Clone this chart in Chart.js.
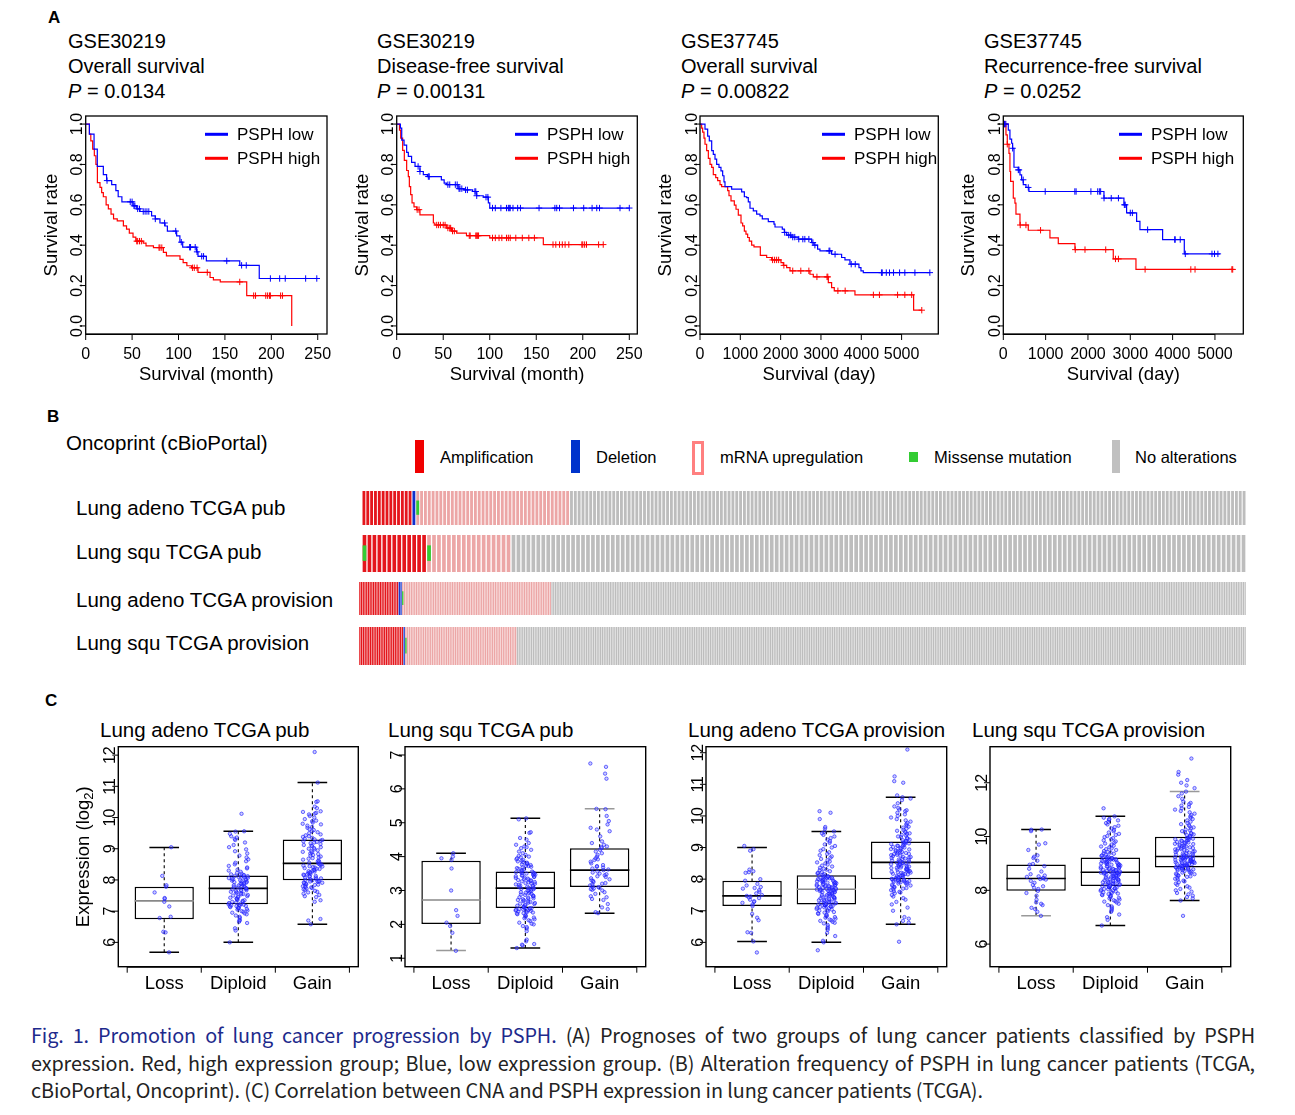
<!DOCTYPE html>
<html lang="en">
<head>
<meta charset="UTF-8">
<title>PSPH in lung cancer - Fig. 1</title>
<style>
  body { margin: 0; background: #fff; }
  #page { position: relative; width: 1295px; height: 1115px; overflow: hidden; background: #fff;
          font-family: "Liberation Sans", Arial, sans-serif; color: #000; }
  .t { position: absolute; white-space: nowrap; line-height: 1; }
  .lett { font-size: 17px; font-weight: bold; }
  .ttl { font-size: 20px; line-height: 25px; }
  .lab { font-size: 20.5px; }
  .leg { font-size: 16.5px; }
  .sw { position: absolute; box-sizing: border-box; }
  canvas { position: absolute; }
  .cap { position: absolute; left: 31px; width: 1224px; white-space: nowrap; font-family: "Noto Sans CJK KR", "Noto Sans", sans-serif;
         font-size: 19.8px; line-height: 28px; color: #222; letter-spacing: -0.1px; }
  .just { text-align: justify; text-align-last: justify; }
  .cap b { font-weight: normal; color: #1d2a8c; }
</style>
</head>
<body>
<div id="page">
  <div class="t lett" style="left:48px;top:9px">A</div>
  <div class="t ttl" style="left:68px;top:29px">GSE30219<br>Overall survival<br><i>P</i> = 0.0134</div>
  <div class="t ttl" style="left:377px;top:29px">GSE30219<br>Disease-free survival<br><i>P</i> = 0.00131</div>
  <div class="t ttl" style="left:681px;top:29px">GSE37745<br>Overall survival<br><i>P</i> = 0.00822</div>
  <div class="t ttl" style="left:984px;top:29px">GSE37745<br>Recurrence-free survival<br><i>P</i> = 0.0252</div>

  <div class="t lett" style="left:47px;top:408px">B</div>
  <div class="t lab" style="left:66px;top:433px">Oncoprint (cBioPortal)</div>
  <div class="t lab" style="left:76px;top:498px">Lung adeno TCGA pub</div>
  <div class="t lab" style="left:76px;top:542px">Lung squ TCGA pub</div>
  <div class="t lab" style="left:76px;top:590px">Lung adeno TCGA provision</div>
  <div class="t lab" style="left:76px;top:633px">Lung squ TCGA provision</div>

  <div class="sw" style="left:415px;top:440px;width:9px;height:33px;background:#f00000"></div>
  <div class="t leg" style="left:440px;top:449px">Amplification</div>
  <div class="sw" style="left:571px;top:440px;width:9px;height:33px;background:#0033cc"></div>
  <div class="t leg" style="left:596px;top:449px">Deletion</div>
  <div class="sw" style="left:692px;top:441px;width:12px;height:34px;border:3px solid #ff8080;background:#fff"></div>
  <div class="t leg" style="left:720px;top:449px">mRNA upregulation</div>
  <div class="sw" style="left:909px;top:452px;width:9px;height:10px;background:#33cc33"></div>
  <div class="t leg" style="left:934px;top:449px">Missense mutation</div>
  <div class="sw" style="left:1112px;top:440px;width:8px;height:33px;background:#c0c0c0"></div>
  <div class="t leg" style="left:1135px;top:449px">No alterations</div>

  <div class="t lett" style="left:45px;top:692px">C</div>
  <div class="t lab" style="left:100px;top:720px">Lung adeno TCGA pub</div>
  <div class="t lab" style="left:388px;top:720px">Lung squ TCGA pub</div>
  <div class="t lab" style="left:688px;top:720px">Lung adeno TCGA provision</div>
  <div class="t lab" style="left:972px;top:720px">Lung squ TCGA provision</div>

  <div class="cap just" style="top:1021px"><b>Fig. 1. Promotion of lung cancer progression by PSPH.</b> (A) Prognoses of two groups of lung cancer patients classified by PSPH</div>
  <div class="cap just" style="top:1049px">expression. Red, high expression group; Blue, low expression group. (B) Alteration frequency of PSPH in lung cancer patients (TCGA,</div>
  <div class="cap" style="top:1076px">cBioPortal, Oncoprint). (C) Correlation between CNA and PSPH expression in lung cancer patients (TCGA).</div>
</div>

<script src="https://cdn.jsdelivr.net/npm/chart.js@4.4.1/dist/chart.umd.min.js"></script>
<script>
// ---------- Panel A: Kaplan-Meier steps (time, survival) + censored times ----------
const gse30219OsLowT = [0, 4, 9, 12.5, 19, 22.5, 28, 32.5, 35, 39, 51, 55, 58.5, 71, 75, 80, 85.5, 88, 98, 101.5, 104.5, 119.5, 121, 130, 166, 187, 250];
const gse30219OsLowS = [1, 0.95, 0.876, 0.79, 0.75, 0.72, 0.70, 0.67, 0.64, 0.615, 0.595, 0.58, 0.567, 0.545, 0.53, 0.51, 0.495, 0.47, 0.446, 0.415, 0.39, 0.367, 0.345, 0.322, 0.30, 0.235, 0.235];
const gse30219OsLowCens = [23, 48, 50, 52, 53, 56, 58, 62, 64, 66, 68, 75, 85, 97, 103, 112, 113, 118, 120, 125, 127, 152, 168, 173, 199, 209, 215, 237, 249];
const gse30219OsHighT = [0, 4, 5.5, 7.5, 9.3, 11, 12.6, 15.4, 17.2, 19, 22, 24.4, 27.3, 30, 34, 40.6, 44, 47, 51, 54, 62, 65, 73, 83.7, 87, 101.6, 105, 109, 114, 121, 134, 137.6, 145, 173.5, 222];
const gse30219OsHighS = [1, 0.95, 0.917, 0.876, 0.843, 0.80, 0.71, 0.686, 0.66, 0.64, 0.60, 0.58, 0.554, 0.53, 0.52, 0.496, 0.48, 0.46, 0.44, 0.42, 0.41, 0.397, 0.388, 0.364, 0.347, 0.33, 0.314, 0.298, 0.288, 0.265, 0.24, 0.228, 0.218, 0.15, 0];
const gse30219OsHighCens = [55, 56, 58, 60, 79, 80, 82, 115, 117, 120, 131, 166, 181, 183, 194, 196, 198, 199, 210, 212];

const gse30219DfsLowT = [0, 4, 5.4, 7.9, 10.7, 12.5, 16, 19.7, 25, 28.6, 33, 48, 51, 53.7, 66, 72, 81.6, 86, 93, 98.5, 100, 250];
const gse30219DfsLowS = [1, 0.98, 0.92, 0.896, 0.86, 0.84, 0.81, 0.79, 0.765, 0.75, 0.74, 0.724, 0.707, 0.70, 0.68, 0.674, 0.666, 0.645, 0.638, 0.61, 0.584, 0.584];
const gse30219DfsLowCens = [23, 25, 34, 35, 55, 57, 63, 65, 67, 68, 70, 74, 76, 84, 85, 86, 96, 98, 103, 106, 112, 118, 120, 121, 122, 125, 130, 133, 153, 170, 172, 175, 190, 201, 210, 215, 218, 240, 250];
const gse30219DfsHighT = [0, 3, 4.3, 6.4, 8.2, 10.7, 12.5, 13.6, 15, 16.5, 18.6, 21.5, 25, 39.4, 41, 53.7, 59, 64.5, 75, 100, 157.6, 222];
const gse30219DfsHighS = [1, 0.97, 0.93, 0.87, 0.82, 0.77, 0.74, 0.69, 0.65, 0.61, 0.59, 0.576, 0.55, 0.51, 0.50, 0.485, 0.47, 0.46, 0.447, 0.436, 0.403, 0.403];
const gse30219DfsHighCens = [22, 24, 43, 45, 47, 50, 52, 55, 57, 58, 60, 62, 78, 79, 85, 86, 87, 88, 103, 106, 110, 113, 118, 120, 122, 128, 135, 142, 148, 168, 171, 175, 178, 181, 185, 199, 200, 202, 204, 217, 222];

const gse37745OsLowT = [0, 124, 190, 231, 290, 330, 372, 413, 471, 520, 562, 595, 620, 785, 1033, 1100, 1157, 1198, 1240, 1322, 1405, 1488, 1545, 1694, 1835, 1860, 2041, 2091, 2149, 2256, 2438, 2769, 2826, 2917, 2975, 3264, 3512, 3595, 3719, 3942, 3992, 4050, 5700];
const gse37745OsLowS = [1, 0.975, 0.94, 0.917, 0.868, 0.85, 0.826, 0.80, 0.785, 0.768, 0.744, 0.714, 0.69, 0.678, 0.664, 0.64, 0.636, 0.615, 0.583, 0.57, 0.554, 0.545, 0.53, 0.517, 0.504, 0.49, 0.48, 0.463, 0.45, 0.44, 0.43, 0.413, 0.40, 0.38, 0.372, 0.355, 0.339, 0.327, 0.306, 0.289, 0.273, 0.264, 0.264];
const gse37745OsLowCens = [2100, 2200, 2250, 2300, 2350, 2450, 2550, 2600, 2700, 2800, 2850, 3200, 3220, 3350, 3750, 3850, 4500, 4520, 4620, 4700, 4800, 4950, 5080, 5330, 5700];
const gse37745OsHighT = [0, 41, 66, 99, 124, 165, 207, 248, 290, 330, 390, 438, 496, 537, 686, 719, 769, 851, 893, 950, 1017, 1058, 1100, 1140, 1182, 1223, 1281, 1339, 1496, 1653, 1777, 2008, 2066, 2149, 2232, 2727, 2810, 3182, 3264, 3330, 3843, 5298, 5500];
const gse37745OsHighS = [1, 0.98, 0.96, 0.93, 0.90, 0.868, 0.83, 0.80, 0.785, 0.75, 0.735, 0.72, 0.70, 0.69, 0.67, 0.645, 0.62, 0.598, 0.578, 0.549, 0.51, 0.496, 0.47, 0.455, 0.438, 0.42, 0.40, 0.392, 0.35, 0.339, 0.327, 0.314, 0.30, 0.289, 0.273, 0.256, 0.243, 0.215, 0.19, 0.174, 0.154, 0.078, 0.078];
const gse37745OsHighCens = [1800, 1850, 1900, 1950, 2080, 2300, 2500, 2700, 2900, 3150, 3170, 3420, 3600, 4300, 4450, 4900, 5080, 5250, 5500];

const gse37745RfsLowT = [0, 118, 157, 197, 220, 252, 354, 394, 433, 472, 535, 606, 2378, 2850, 2913, 3150, 3228, 3764, 4276, 5118];
const gse37745RfsLowS = [1, 0.97, 0.925, 0.905, 0.88, 0.786, 0.773, 0.748, 0.724, 0.70, 0.686, 0.666, 0.633, 0.60, 0.56, 0.518, 0.477, 0.428, 0.357, 0.357];
const gse37745RfsLowCens = [30, 60, 220, 354, 370, 470, 590, 990, 1690, 1720, 2070, 2230, 2270, 2300, 2380, 2550, 2720, 2860, 2880, 3000, 3050, 3410, 4050, 4060, 4180, 4300, 4930, 4990, 5070];
const gse37745RfsHighT = [0, 63, 94, 134, 157, 173, 236, 275, 299, 394, 590, 1102, 1299, 1693, 2598, 3134, 5433];
const gse37745RfsHighS = [1, 0.946, 0.90, 0.855, 0.765, 0.716, 0.633, 0.608, 0.554, 0.50, 0.474, 0.436, 0.408, 0.378, 0.332, 0.28, 0.28];
const gse37745RfsHighCens = [20, 40, 94, 400, 535, 880, 1700, 1930, 2420, 2650, 2720, 3350, 4430, 4530, 5400, 5420];

const kmYTicks = [0, 0.2, 0.4, 0.6, 0.8, 1.0];
const monthTicks = [0, 50, 100, 150, 200, 250];
const dayTicks = [0, 1000, 2000, 3000, 4000, 5000];

// ---------- Panel B: oncoprint sample counts per cohort ----------
const oncoRows = ['Lung adeno TCGA pub', 'Lung squ TCGA pub', 'Lung adeno TCGA provision', 'Lung squ TCGA provision'];
const ampCounts = [13, 13, 23, 25];
const delCounts = [1, 0, 2, 1];
const mrnaCounts = [40, 17, 87, 63];
const noAltCounts = [176, 148, 405, 412];
const mutSamples = [[14], [0, 13], [25], [26]];

// ---------- Panel C: PSPH expression by copy number ----------
const cnaGroups = ['Loss', 'Diploid', 'Gain'];

const adPubLoss = [5.68, 6.32, 6.34, 6.78, 6.82, 7.15, 7.3, 7.4, 7.42, 7.6, 7.78, 7.83, 8.13, 9.05];
const adPubDip = [6.0, 6.38, 6.45, 6.62, 6.66, 6.7, 6.72, 6.78, 6.82, 6.86, 6.9, 6.93, 6.95, 6.98, 7.0, 7.02, 7.05, 7.07, 7.08, 7.1, 7.12, 7.13, 7.15, 7.16, 7.17, 7.18, 7.19, 7.2, 7.21, 7.22,
  7.24, 7.26, 7.28, 7.3, 7.31, 7.33, 7.35, 7.36, 7.38, 7.4, 7.41, 7.43, 7.45, 7.47, 7.48, 7.5, 7.52, 7.54, 7.55, 7.57, 7.59, 7.6, 7.62, 7.64, 7.65, 7.67, 7.68, 7.7, 7.71, 7.73,
  7.74, 7.76, 7.78, 7.79, 7.8, 7.82, 7.83, 7.85, 7.86, 7.88, 7.89, 7.9, 7.92, 7.93, 7.95, 7.96, 7.98, 7.99, 8.0, 8.02, 8.03, 8.04, 8.06, 8.07, 8.08, 8.1, 8.11, 8.12, 8.13, 8.14,
  8.16, 8.18, 8.2, 8.23, 8.26, 8.3, 8.33, 8.37, 8.4, 8.45, 8.5, 8.55, 8.6, 8.66, 8.72, 8.78, 8.85, 8.92, 8.98, 9.05, 9.12, 9.2, 9.28, 9.32, 9.36, 9.4, 9.48, 9.55, 9.56, 10.12];
const adPubGain = [6.58, 6.7, 6.75, 7.3, 7.35, 7.45, 7.48, 7.52, 7.56, 7.6, 7.62, 7.65, 7.68, 7.7, 7.72, 7.74, 7.76, 7.78, 7.8, 7.82, 7.84, 7.85, 7.86, 7.88, 7.9, 7.91, 7.92, 7.94, 7.95, 7.96, 7.97, 7.99,
  8.0, 8.02, 8.04, 8.05, 8.07, 8.08, 8.1, 8.12, 8.13, 8.15, 8.17, 8.18, 8.2, 8.22, 8.23, 8.25, 8.27, 8.28, 8.3, 8.32, 8.33, 8.35, 8.36, 8.38, 8.4, 8.41, 8.43, 8.44, 8.46, 8.48, 8.5, 8.51, 8.53,
  8.55, 8.58, 8.6, 8.62, 8.65, 8.68, 8.7, 8.72, 8.75, 8.78, 8.8, 8.83, 8.85, 8.88, 8.9, 8.92, 8.95, 8.98, 9.0, 9.02, 9.05, 9.08, 9.1, 9.12, 9.15, 9.18, 9.2, 9.22, 9.24, 9.26, 9.28, 9.3,
  9.32, 9.35, 9.38, 9.4, 9.43, 9.46, 9.5, 9.53, 9.56, 9.6, 9.63, 9.67, 9.7, 9.74, 9.78, 9.8, 9.84, 9.88, 9.9, 9.95, 10.0, 10.05, 10.1, 10.13, 10.15, 10.18, 10.2, 10.3, 10.35, 10.5, 10.52, 11.12, 12.1];
const adPubLo = [5.68, 6.0, 6.58], adPubQ1 = [6.74, 7.22, 7.99], adPubMed = [7.33, 7.73, 8.53], adPubQ3 = [7.78, 8.14, 9.30], adPubHi = [9.04, 9.56, 11.12];

const sqPubLoss = [1.22, 1.75, 1.95, 2.05, 2.25, 2.42, 3.0, 3.65, 3.9, 3.95, 4.0, 4.1];
const sqPubDip = [1.3, 1.38, 1.4, 1.42, 1.5, 1.55, 1.8, 1.88, 1.92, 1.95, 2.0, 2.02, 2.05, 2.1, 2.12, 2.15, 2.18, 2.2, 2.22, 2.25, 2.27, 2.3, 2.32, 2.33, 2.35, 2.36, 2.38, 2.39, 2.4, 2.41, 2.42, 2.43, 2.44, 2.45, 2.46, 2.47, 2.48,
  2.49, 2.5, 2.52, 2.53, 2.55, 2.56, 2.58, 2.6, 2.61, 2.63, 2.64, 2.66, 2.68, 2.69, 2.71, 2.72, 2.74, 2.76, 2.77, 2.79, 2.8, 2.82, 2.84, 2.85, 2.87, 2.88, 2.9, 2.92, 2.93, 2.95, 2.96, 2.98, 3.0, 3.01, 3.03, 3.04, 3.05, 3.07,
  3.08, 3.1, 3.11, 3.12, 3.14, 3.15, 3.17, 3.18, 3.2, 3.21, 3.22, 3.24, 3.25, 3.27, 3.28, 3.3, 3.31, 3.32, 3.34, 3.35, 3.37, 3.38, 3.4, 3.41, 3.42, 3.44, 3.45, 3.46, 3.47, 3.48, 3.5, 3.51, 3.52, 3.53, 3.54, 3.55, 3.56,
  3.58, 3.6, 3.62, 3.64, 3.66, 3.68, 3.7, 3.72, 3.73, 3.75, 3.77, 3.78, 3.8, 3.82, 3.84, 3.86, 3.88, 3.9, 3.92, 3.95, 3.98, 4.0, 4.02, 4.05, 4.1, 4.15, 4.2, 4.25, 4.28, 4.3, 4.35, 4.4, 4.5, 4.55, 4.7, 4.72, 5.1, 5.13];
const sqPubGain = [2.33, 2.36, 2.45, 2.5, 2.6, 2.72, 2.75, 2.8, 2.83, 2.9, 2.95, 3.0, 3.02, 3.04, 3.06, 3.08, 3.1,
  3.12, 3.15, 3.18, 3.2, 3.22, 3.25, 3.28, 3.3, 3.33, 3.36, 3.4, 3.42, 3.45, 3.48, 3.5, 3.53, 3.56, 3.6,
  3.62, 3.65, 3.68, 3.7, 3.72, 3.75, 3.8, 3.85, 3.9, 3.92, 3.95, 4.0, 4.05, 4.1, 4.15, 4.2, 4.25,
  4.28, 4.3, 4.35, 4.4, 4.45, 4.6, 4.75, 4.8, 4.85, 4.95, 5.05, 5.2, 5.4, 5.41, 6.3, 6.45, 6.65, 6.75];
const sqPubLo = [1.23, 1.30, 2.33], sqPubQ1 = [2.01, 2.48, 3.10], sqPubMed = [2.72, 3.07, 3.60], sqPubQ3 = [3.88, 3.56, 4.25], sqPubHi = [4.10, 5.13, 5.41];

const adProvLoss = [5.68, 6.03, 6.3, 6.32, 6.7, 6.78, 6.9, 7.15, 7.2, 7.25, 7.28, 7.3, 7.35, 7.4, 7.42, 7.45, 7.47, 7.5, 7.55, 7.6, 7.65, 7.7, 7.72, 7.75, 7.8, 7.85, 7.95, 8.0, 8.2, 8.22, 8.25, 8.3, 8.9, 8.95, 9.05];
const adProvDip = [5.75, 6.0, 6.05, 6.2, 6.3, 6.4, 6.45, 6.5, 6.55, 6.6, 6.62, 6.65, 6.68, 6.7, 6.72, 6.75, 6.78, 6.8, 6.82, 6.85, 6.87, 6.9, 6.92, 6.94, 6.96, 6.98, 7.0, 7.02, 7.04, 7.06, 7.08, 7.1, 7.11, 7.12, 7.13, 7.14, 7.15, 7.16, 7.17, 7.18, 7.19, 7.2,
  7.21, 7.22, 7.23, 7.24, 7.25, 7.27, 7.28, 7.29, 7.3, 7.32, 7.33, 7.34, 7.35, 7.37, 7.38, 7.39, 7.4, 7.42, 7.43, 7.44, 7.45, 7.47, 7.48, 7.49, 7.5, 7.52, 7.53, 7.54, 7.55, 7.57, 7.58, 7.59, 7.6, 7.61, 7.62, 7.63, 7.64, 7.65, 7.66, 7.67, 7.67, 7.68, 7.68,
  7.69, 7.7, 7.71, 7.72, 7.73, 7.74, 7.75, 7.76, 7.77, 7.78, 7.79, 7.8, 7.81, 7.82, 7.83, 7.84, 7.85, 7.86, 7.87, 7.88, 7.89, 7.9, 7.91, 7.92, 7.93, 7.94, 7.95, 7.96, 7.97, 7.98, 7.99, 8.0, 8.01, 8.02, 8.03, 8.04, 8.05, 8.06, 8.07, 8.08, 8.09, 8.1, 8.12,
  8.14, 8.16, 8.18, 8.2, 8.22, 8.25, 8.28, 8.3, 8.33, 8.36, 8.4, 8.43, 8.46, 8.5, 8.53, 8.56, 8.6, 8.64, 8.68, 8.72, 8.76, 8.8, 8.85, 8.9, 8.95, 9.0, 9.05, 9.1, 9.15, 9.2, 9.25, 9.3, 9.35, 9.4, 9.45, 9.5, 9.51, 9.6, 9.65, 9.9, 10.1, 10.15];
const adProvGain = [6.02, 6.57, 6.62, 6.68, 6.75, 6.8, 7.0, 7.1, 7.2, 7.28, 7.35, 7.4, 7.45, 7.5, 7.55, 7.58, 7.6, 7.62, 7.65, 7.68, 7.7, 7.72, 7.74, 7.76, 7.78, 7.8, 7.82, 7.84, 7.86, 7.88, 7.89, 7.9, 7.91, 7.92, 7.93, 7.94, 7.95, 7.96, 7.97, 7.98, 7.99, 8.0,
  8.01, 8.02, 8.03, 8.05, 8.06, 8.07, 8.08, 8.1, 8.11, 8.12, 8.13, 8.15, 8.16, 8.17, 8.18, 8.2, 8.21, 8.22, 8.23, 8.25, 8.26, 8.27, 8.28, 8.3, 8.31, 8.32, 8.33, 8.35, 8.36, 8.37, 8.38, 8.4, 8.41, 8.42, 8.43, 8.45, 8.46, 8.47, 8.48, 8.5, 8.51, 8.52, 8.53,
  8.55, 8.56, 8.58, 8.59, 8.61, 8.62, 8.64, 8.65, 8.67, 8.68, 8.7, 8.71, 8.73, 8.74, 8.76, 8.77, 8.79, 8.8, 8.82, 8.83, 8.85, 8.86, 8.88, 8.89, 8.91, 8.92, 8.94, 8.95, 8.97, 8.98, 9.0, 9.02, 9.03, 9.05, 9.06, 9.08, 9.1, 9.11, 9.13, 9.14, 9.16, 9.17, 9.19,
  9.21, 9.23, 9.25, 9.28, 9.3, 9.33, 9.35, 9.38, 9.4, 9.43, 9.45, 9.48, 9.5, 9.53, 9.56, 9.6, 9.63, 9.66, 9.7, 9.74, 9.78, 9.82, 9.86, 9.9, 9.95, 10.0, 10.05, 10.1, 10.15, 10.18, 10.2, 10.25, 10.3, 10.4, 10.5, 10.55, 10.59, 10.65, 11.05, 11.1, 11.25, 12.1];
const adProvLo = [6.03, 6.0, 6.57], adProvQ1 = [7.15, 7.20, 8.0], adProvMed = [7.47, 7.68, 8.53], adProvQ3 = [7.95, 8.12, 9.19], adProvHi = [9.0, 9.51, 10.59];

const sqProvLoss = [7.05, 7.2, 7.3, 7.35, 7.45, 7.5, 7.55, 7.65, 7.8, 7.9, 7.98, 8.05, 8.1, 8.15, 8.2, 8.28, 8.35, 8.4, 8.42, 8.44, 8.46, 8.5, 8.52, 8.55, 8.6, 8.7, 8.8, 8.9, 8.95, 8.98, 9.1, 9.2, 9.25, 9.3, 9.5, 9.7, 9.75, 10.2, 10.25, 10.26];
const sqProvDip = [6.69, 6.9, 7.0, 7.1, 7.2, 7.25, 7.3, 7.35, 7.4, 7.45, 7.5, 7.55, 7.58, 7.6, 7.63, 7.66, 7.7, 7.72, 7.75, 7.78, 7.8, 7.82, 7.84, 7.86, 7.88, 7.9, 7.92, 7.94, 7.96, 7.98, 8.0, 8.02, 8.04, 8.05, 8.07, 8.08, 8.1, 8.11, 8.12, 8.13, 8.15, 8.16,
  8.17, 8.18, 8.2, 8.21, 8.22, 8.24, 8.25, 8.26, 8.28, 8.29, 8.3, 8.32, 8.33, 8.34, 8.36, 8.37, 8.38, 8.4, 8.41, 8.42, 8.44, 8.45, 8.46, 8.48, 8.49, 8.5, 8.52, 8.53, 8.54, 8.56, 8.57, 8.58, 8.6, 8.61, 8.62, 8.63, 8.64, 8.65, 8.65, 8.66, 8.66, 8.67, 8.67,
  8.68, 8.7, 8.71, 8.72, 8.74, 8.75, 8.76, 8.78, 8.79, 8.8, 8.82, 8.83, 8.84, 8.86, 8.87, 8.88, 8.9, 8.91, 8.92, 8.94, 8.95, 8.96, 8.98, 8.99, 9.0, 9.02, 9.03, 9.04, 9.06, 9.07, 9.08, 9.1, 9.11, 9.12, 9.14, 9.15, 9.16, 9.17, 9.18, 9.19, 9.2, 9.21, 9.22,
  9.24, 9.26, 9.28, 9.3, 9.33, 9.36, 9.38, 9.4, 9.43, 9.46, 9.5, 9.53, 9.56, 9.6, 9.63, 9.66, 9.7, 9.74, 9.78, 9.82, 9.86, 9.9, 9.94, 9.98, 10.02, 10.06, 10.1, 10.15, 10.2, 10.25, 10.3, 10.35, 10.4, 10.45, 10.5, 10.55, 10.6, 10.62, 10.65, 10.7, 10.75, 11.05];
const sqProvGain = [7.05, 7.62, 7.7, 7.75, 7.8, 7.85, 7.9, 7.95, 8.0, 8.05, 8.1, 8.15, 8.2, 8.25, 8.3, 8.33, 8.36, 8.4, 8.43, 8.46, 8.5, 8.52, 8.54, 8.56, 8.58, 8.6, 8.62, 8.64, 8.66, 8.68, 8.7, 8.72, 8.74, 8.75, 8.76, 8.78, 8.79, 8.8, 8.81, 8.82, 8.84, 8.85,
  8.86, 8.87, 8.88, 8.89, 8.9, 8.91, 8.92, 8.93, 8.94, 8.95, 8.96, 8.97, 8.98, 8.99, 9.0, 9.01, 9.02, 9.03, 9.04, 9.05, 9.06, 9.07, 9.08, 9.09, 9.1, 9.11, 9.12, 9.13, 9.14, 9.15, 9.16, 9.17, 9.18, 9.19, 9.2, 9.21, 9.22, 9.23, 9.24, 9.24, 9.25, 9.25, 9.26,
  9.28, 9.3, 9.32, 9.33, 9.35, 9.37, 9.38, 9.4, 9.42, 9.43, 9.45, 9.47, 9.48, 9.5, 9.52, 9.53, 9.55, 9.57, 9.58, 9.6, 9.62, 9.63, 9.65, 9.67, 9.68, 9.7, 9.72, 9.73, 9.75, 9.77, 9.78, 9.8, 9.82, 9.83, 9.85, 9.87, 9.88, 9.9, 9.92, 9.93, 9.95, 9.97, 9.99,
  10.02, 10.05, 10.08, 10.1, 10.13, 10.16, 10.2, 10.23, 10.26, 10.3, 10.34, 10.38, 10.42, 10.46, 10.5, 10.55, 10.6, 10.65, 10.7, 10.75, 10.8, 10.85, 10.9, 10.95, 11.0, 11.05, 11.1, 11.15, 11.2, 11.25, 11.3, 11.4, 11.5, 11.6, 11.67, 11.8, 11.9, 12.0, 12.1, 12.3, 12.4, 12.9];
const sqProvLo = [7.05, 6.69, 7.62], sqProvQ1 = [7.98, 8.16, 8.85], sqProvMed = [8.44, 8.67, 9.26], sqProvQ3 = [8.96, 9.22, 9.99], sqProvHi = [10.26, 10.75, 11.67];

// ---------- helpers ----------
const page = document.getElementById('page');
const FONT = '"Liberation Sans", Arial, sans-serif';
const BLUE = '#0000ff', RED = '#ff0000';

function canvasAt(x, y, w, h) {
  const c = document.createElement('canvas');
  c.width = w; c.height = h;
  c.style.left = x + 'px'; c.style.top = y + 'px';
  c.style.width = w + 'px'; c.style.height = h + 'px';
  page.appendChild(c);
  return c;
}

function kmSteps(t, s) { return t.map((v, i) => ({ x: v, y: s[i] })); }
function kmCensor(t, s, c) {
  return c.map(v => {
    let k = 0;
    while (k + 1 < t.length && t[k + 1] <= v) k++;
    return { x: v, y: s[k] };
  });
}

// R-like frame: box, outward ticks, rotated y labels
function rFrame(f) {
  return {
    id: 'rFrame',
    afterDatasetsDraw(chart) {
      const { ctx, chartArea: a } = chart;
      const x = chart.scales.x, y = chart.scales.y;
      ctx.save();
      ctx.strokeStyle = '#000';
      ctx.fillStyle = '#000';
      ctx.lineWidth = f.frameWidth || 1.3;
      ctx.strokeRect(a.left, a.top, a.right - a.left, a.bottom - a.top);

      ctx.lineWidth = 1;
      ctx.beginPath();
      f.xMarks.forEach(v => {
        const px = x.getPixelForValue(v);
        ctx.moveTo(px, a.bottom); ctx.lineTo(px, a.bottom + 6);
      });
      const x0 = x.getPixelForValue(f.xMarks[0]), x1 = x.getPixelForValue(f.xMarks[f.xMarks.length - 1]);
      ctx.moveTo(x0, a.bottom + 0.5); ctx.lineTo(x1, a.bottom + 0.5);
      f.yTicks.forEach(v => {
        const py = y.getPixelForValue(v);
        ctx.moveTo(a.left, py); ctx.lineTo(a.left - 6, py);
      });
      ctx.stroke();

      ctx.font = f.xFont;
      ctx.textAlign = 'center';
      ctx.textBaseline = 'middle';
      f.xAt.forEach((v, i) => ctx.fillText(f.xText[i], x.getPixelForValue(v), a.bottom + f.xGap));

      ctx.font = '16px ' + FONT;
      ctx.textBaseline = 'alphabetic';
      f.yTicks.forEach(v => {
        ctx.save();
        ctx.translate(a.left - 3.5, y.getPixelForValue(v));
        ctx.rotate(-Math.PI / 2);
        ctx.fillText(f.yFmt(v), 0, 0);
        ctx.restore();
      });

      ctx.font = '18.5px ' + FONT;
      ctx.textBaseline = 'middle';
      if (f.xTitle) ctx.fillText(f.xTitle, (a.left + a.right) / 2, a.bottom + 41);
      if (f.yTitle) {
        ctx.save();
        ctx.translate(a.left - 34, (a.top + a.bottom) / 2);
        ctx.rotate(-Math.PI / 2);
        const main = f.yTitle, sub = f.ySub || '', tail = f.yTail || '';
        const w1 = ctx.measureText(main).width, w3 = ctx.measureText(tail).width;
        ctx.font = '13px ' + FONT;
        const w2 = ctx.measureText(sub).width;
        let s = -(w1 + w2 + w3) / 2;
        ctx.textAlign = 'left';
        ctx.font = '18.5px ' + FONT;
        ctx.fillText(main, s, 0);
        ctx.font = '13px ' + FONT;
        ctx.fillText(sub, s + w1, 5);
        ctx.font = '18.5px ' + FONT;
        ctx.fillText(tail, s + w1 + w2, 0);
        ctx.restore();
      }

      if (f.keyX !== undefined) {
        ctx.textAlign = 'left';
        ctx.font = '17px ' + FONT;
        [0, 1].forEach(i => {
          const ds = chart.data.datasets[i];
          const yy = a.top + 18.3 + i * 24;
          ctx.strokeStyle = ds.borderColor;
          ctx.lineWidth = 3;
          ctx.beginPath(); ctx.moveTo(f.keyX, yy); ctx.lineTo(f.keyX + 23, yy); ctx.stroke();
          ctx.fillText(ds.label, f.keyX + 32, yy + 1);
        });
      }
      ctx.restore();
    }
  };
}

const baseOpts = { responsive: false, animation: false, events: [] };
const noPlugins = { legend: { display: false }, tooltip: { enabled: false } };

// ---------- Panel A ----------
const kmPanels = [
  { box: [85.7, 116, 327, 334], xMax: 260, ticks: monthTicks, title: 'Survival (month)', keyX: 205,
    low: [gse30219OsLowT, gse30219OsLowS, gse30219OsLowCens], high: [gse30219OsHighT, gse30219OsHighS, gse30219OsHighCens] },
  { box: [396.7, 116, 637.3, 334], xMax: 258.6, ticks: monthTicks, title: 'Survival (month)', keyX: 515,
    low: [gse30219DfsLowT, gse30219DfsLowS, gse30219DfsLowCens], high: [gse30219DfsHighT, gse30219DfsHighS, gse30219DfsHighCens] },
  { box: [700, 116, 938.3, 334], xMax: 5910, ticks: dayTicks, title: 'Survival (day)', keyX: 822,
    low: [gse37745OsLowT, gse37745OsLowS, gse37745OsLowCens], high: [gse37745OsHighT, gse37745OsHighS, gse37745OsHighCens] },
  { box: [1003.3, 116, 1243.3, 334], xMax: 5670, ticks: dayTicks, title: 'Survival (day)', keyX: 1119,
    low: [gse37745RfsLowT, gse37745RfsLowS, gse37745RfsLowCens], high: [gse37745RfsHighT, gse37745RfsHighS, gse37745RfsHighCens] }
];

kmPanels.forEach(p => {
  const [l, t, r, b] = p.box;
  const cx = Math.floor(l - 62), cy = 100, cw = Math.ceil(r + 10) - cx, ch = 300;
  const cv = canvasAt(cx, cy, cw, ch);
  const line = (label, d, color) => ({ type: 'line', label, data: kmSteps(d[0], d[1]), borderColor: color,
    borderWidth: 1.2, stepped: 'before', pointRadius: 0, fill: false, order: 2 });
  const marks = (d, color) => ({ type: 'scatter', data: kmCensor(d[0], d[1], d[2]), pointStyle: 'cross',
    pointRadius: 3.2, pointBorderColor: color, pointBorderWidth: 1, order: 1 });
  new Chart(cv, {
    type: 'scatter',
    data: { datasets: [line('PSPH low', p.low, BLUE), line('PSPH high', p.high, RED), marks(p.low, BLUE), marks(p.high, RED)] },
    options: Object.assign({}, baseOpts, {
      layout: { padding: { left: l - cx, top: t - cy, right: cx + cw - r, bottom: cy + ch - b } },
      scales: {
        x: { type: 'linear', display: false, min: 0, max: p.xMax },
        y: { type: 'linear', display: false, min: -0.04, max: 1.04 }
      },
      plugins: noPlugins
    }),
    plugins: [rFrame({ xMarks: p.ticks, xAt: p.ticks, xText: p.ticks.map(String), xFont: '16px ' + FONT, xGap: 20.5,
      yTicks: kmYTicks, yFmt: v => v.toFixed(1), xTitle: p.title, yTitle: 'Survival rate', keyX: p.keyX - cx })]
  });
});

// ---------- Panel B ----------
const oncoBoxes = [[362, 491, 1246, 525], [362, 535, 1246, 572], [359, 582, 1246, 615], [359, 627, 1246, 665]];
const AMP = '#e4161c', DEL = '#1030cc', MRNA = '#eca6a6', NOALT = '#bdbdbd', MUT = '#33cc33';

oncoRows.forEach((name, r) => {
  const [l, t, rr, b] = oncoBoxes[r];
  const colors = [];
  [[ampCounts[r], AMP], [delCounts[r], DEL], [mrnaCounts[r], MRNA], [noAltCounts[r], NOALT]].forEach(([n, c]) => {
    for (let i = 0; i < n; i++) colors.push(c);
  });
  const labels = colors.map((c, i) => i);
  const cv = canvasAt(l, t, rr - l, b - t);
  new Chart(cv, {
    type: 'bar',
    data: {
      labels,
      datasets: [
        { label: name + ' mutation', data: labels.map(i => mutSamples[r].includes(i) ? [0.3, 0.72] : null),
          backgroundColor: MUT, grouped: false, barPercentage: 0.75, categoryPercentage: 1, order: 0 },
        { label: name, data: labels.map(() => 1), backgroundColor: colors, grouped: false,
          barPercentage: 0.74, categoryPercentage: 1, order: 1 }
      ]
    },
    options: Object.assign({}, baseOpts, {
      scales: { x: { display: false }, y: { display: false, min: 0, max: 1 } },
      plugins: noPlugins
    })
  });
});

// ---------- Panel C ----------
const cPanels = [
  { box: [118.3, 746.7, 358.3, 966.7], yMin: 5.22, yMax: 12.27, yTicks: [6, 7, 8, 9, 10, 11, 12], yTitle: true,
    pts: [adPubLoss, adPubDip, adPubGain], lo: adPubLo, q1: adPubQ1, med: adPubMed, q3: adPubQ3, hi: adPubHi,
    medCol: ['#888', '#000', '#000'], loCol: ['#000', '#000', '#000'], hiCol: ['#000', '#000', '#000'] },
  { box: [405, 746.7, 645.7, 966.7], yMin: 0.75, yMax: 7.245, yTicks: [1, 2, 3, 4, 5, 6, 7],
    pts: [sqPubLoss, sqPubDip, sqPubGain], lo: sqPubLo, q1: sqPubQ1, med: sqPubMed, q3: sqPubQ3, hi: sqPubHi,
    medCol: ['#888', '#000', '#000'], loCol: ['#999', '#000', '#000'], hiCol: ['#000', '#000', '#999'] },
  { box: [706, 746.7, 946.7, 966.7], yMin: 5.23, yMax: 12.19, yTicks: [6, 7, 8, 9, 10, 11, 12],
    pts: [adProvLoss, adProvDip, adProvGain], lo: adProvLo, q1: adProvQ1, med: adProvMed, q3: adProvQ3, hi: adProvHi,
    medCol: ['#000', '#888', '#000'], loCol: ['#000', '#000', '#000'], hiCol: ['#000', '#000', '#000'] },
  { box: [990, 746.7, 1230.7, 966.7], yMin: 5.16, yMax: 13.34, yTicks: [6, 8, 10, 12],
    pts: [sqProvLoss, sqProvDip, sqProvGain], lo: sqProvLo, q1: sqProvQ1, med: sqProvMed, q3: sqProvQ3, hi: sqProvHi,
    medCol: ['#000', '#000', '#000'], loCol: ['#999', '#000', '#000'], hiCol: ['#000', '#000', '#999'] }
];

function halfWidth(chart, units) {
  const s = chart.scales.x;
  return s.getPixelForValue(1 + units) - s.getPixelForValue(1);
}
function jitter(i, g) {
  const h = Math.sin((i + 1) * 12.9898 + (g + 1) * 78.233) * 43758.5453;
  return (h - Math.floor(h) - 0.5) * 0.27;
}

cPanels.forEach(p => {
  const [l, t, r, b] = p.box;
  const cx = Math.floor(l - 62), cy = 738, cw = Math.ceil(r + 10) - cx, ch = 264;
  const cv = canvasAt(cx, cy, cw, ch);
  const pos = [1, 2, 3];
  const whisk = [];
  pos.forEach((g, k) => { whisk.push({ x: g, y: p.lo[k] }, { x: g, y: p.hi[k] }, { x: g + 0.5, y: null }); });
  const points = [];
  p.pts.forEach((vals, k) => vals.forEach((v, i) => points.push({ x: pos[k] + jitter(i, k), y: v })));
  new Chart(cv, {
    type: 'scatter',
    data: {
      datasets: [
        { type: 'line', data: whisk, borderColor: '#000', borderWidth: 1.1, borderDash: [3, 3], pointRadius: 0,
          spanGaps: false, order: 4 },
        { type: 'bar', data: pos.map((g, k) => ({ x: g, y: [p.q1[k], p.q3[k]] })), backgroundColor: '#fff',
          borderColor: '#000', borderWidth: 1.5, borderSkipped: false, grouped: false,
          barPercentage: 0.8, categoryPercentage: 1, order: 3 },
        { type: 'scatter', data: pos.map((g, k) => ({ x: g, y: p.med[k] })), pointStyle: 'line',
          pointRadius: c => halfWidth(c.chart, 0.4), pointBorderWidth: 1.6, pointBorderColor: p.medCol, order: 2 },
        { type: 'scatter', data: pos.map((g, k) => ({ x: g, y: p.lo[k] })).concat(pos.map((g, k) => ({ x: g, y: p.hi[k] }))),
          pointStyle: 'line', pointRadius: c => halfWidth(c.chart, 0.2), pointBorderWidth: 1.5,
          pointBorderColor: p.loCol.concat(p.hiCol), order: 2 },
        { type: 'scatter', data: points, pointStyle: 'circle', pointRadius: 1.7, pointBorderWidth: 0.8,
          pointBorderColor: 'rgba(20,20,255,0.75)', pointBackgroundColor: 'rgba(110,110,255,0.35)', order: 0 }
      ]
    },
    options: Object.assign({}, baseOpts, {
      layout: { padding: { left: l - cx, top: t - cy, right: cx + cw - r, bottom: cy + ch - b } },
      scales: {
        x: { type: 'linear', display: false, min: 0.38, max: 3.62, offset: false,
             afterBuildTicks: s => { s.ticks = pos.map(v => ({ value: v })); } },
        y: { type: 'linear', display: false, min: p.yMin, max: p.yMax }
      },
      plugins: noPlugins
    }),
    plugins: [rFrame({ frameWidth: 1.4, xMarks: [0.5, 1.5, 2.5, 3.5], xAt: pos, xText: cnaGroups, xFont: '18.5px ' + FONT,
      xGap: 17.5, yTicks: p.yTicks, yFmt: v => String(v),
      yTitle: p.yTitle ? 'Expression (log' : null, ySub: '2', yTail: ')' })]
  });
});
</script>
</body>
</html>
